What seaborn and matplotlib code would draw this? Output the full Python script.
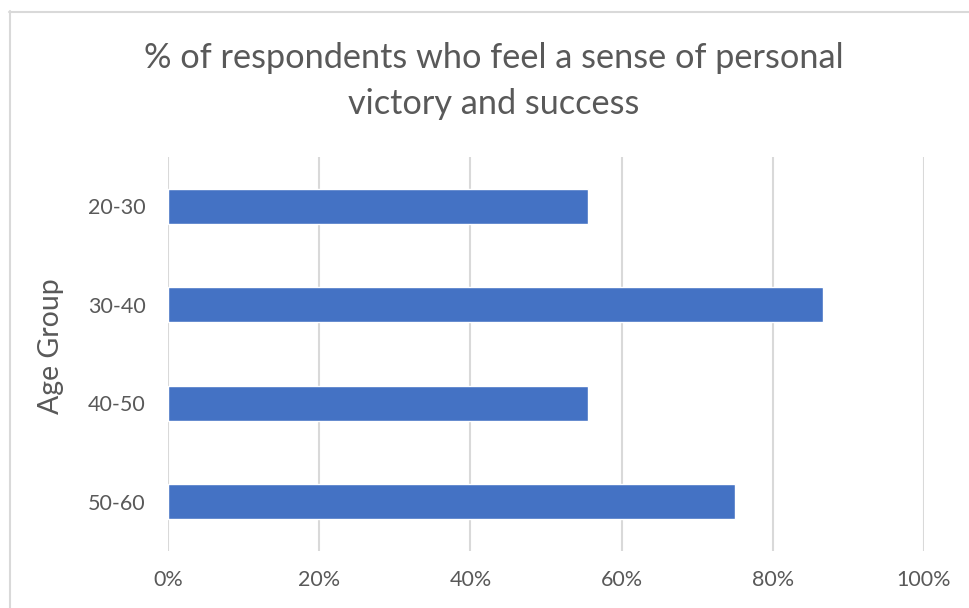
import matplotlib
matplotlib.use("Agg")
import matplotlib.pyplot as plt
from matplotlib.lines import Line2D
from matplotlib.ticker import PercentFormatter
import seaborn as sns
import pandas as pd

age_groups = ["20-30", "30-40", "40-50", "50-60"]
pct_values = [0.556, 0.867, 0.556, 0.75]
x_ticks = [0, 0.2, 0.4, 0.6, 0.8, 1.0]

sns.set_theme(style="white")
plt.rcParams['font.family'] = ['Lato', 'DejaVu Sans']

W, H = 969, 608
fig = plt.figure(figsize=(W / 100, H / 100), dpi=100)
ax = fig.add_axes([168 / W, 1 - 551 / H, (924 - 168) / W, (551 - 157) / H])

df = pd.DataFrame({"Age Group": age_groups, "pct": pct_values})
sns.barplot(data=df, x="pct", y="Age Group", orient="h", color="#4472C4",
            saturation=1, width=0.355, ax=ax, zorder=3)

ax.set_xlim(0, 1.0)
ax.set_xticks(x_ticks)
ax.xaxis.set_major_formatter(PercentFormatter(1.0, decimals=0))
ax.grid(axis="x", color="#D9D9D9", linewidth=1.5, zorder=0)
ax.grid(axis="y", visible=False)
for s in ax.spines.values():
    s.set_visible(False)
ax.tick_params(axis="both", length=0, labelsize=15.5, labelcolor="#595959")
ax.tick_params(axis="x", pad=14)
ax.tick_params(axis="y", pad=16)
ax.set_xlabel("")
ax.set_ylabel("Age Group", fontsize=20.5, color="#595959")
ax.yaxis.set_label_coords((64 - 168) / 756, (551 - 346) / 394)

fig.text(494 / W, 1 - 81 / H, "% of respondents who feel a sense of personal\nvictory and success",
         ha="center", va="center", fontsize=24.7, color="#595959", linespacing=1.5)

# chart border (partially cropped)
fig.add_artist(Line2D([9.5 / W, 9.5 / W], [0, 1 - 11 / H], transform=fig.transFigure,
                      color="#D9D9D9", linewidth=1.5))
fig.add_artist(Line2D([9 / W, 1], [1 - 11.5 / H, 1 - 11.5 / H], transform=fig.transFigure,
                      color="#D9D9D9", linewidth=1.5))

fig.savefig("out.png", dpi=100, facecolor="white")
